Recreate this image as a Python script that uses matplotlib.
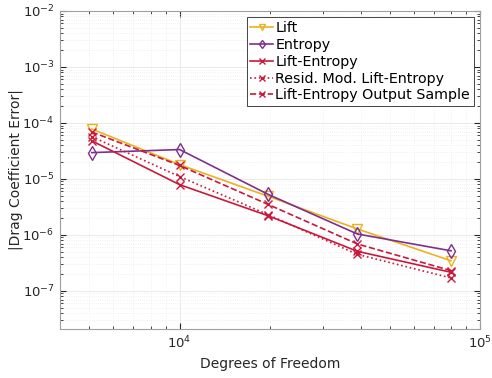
import numpy as np
import matplotlib.pyplot as plt

# Degrees of freedom for each refinement level
dof = [5100, 10000, 19700, 39000, 80000]

# |drag coefficient error| for each adaptation indicator
err_lift = [7.8e-5, 1.8e-5, 4.9e-6, 1.28e-6, 3.45e-7]
err_entropy = [2.95e-5, 3.35e-5, 5.3e-6, 1.04e-6, 5.2e-7]
err_lift_entropy = [4.8e-5, 7.9e-6, 2.2e-6, 5.1e-7, 2.15e-7]
err_resid_mod = [5.7e-5, 1.1e-5, 2.3e-6, 4.5e-7, 1.7e-7]
err_output_sample = [6.9e-5, 1.74e-5, 3.5e-6, 6.9e-7, 2.3e-7]

c_yellow = '#EDB120'
c_purple = '#7E2F8E'
c_red = '#C8193C'

fig, ax = plt.subplots(figsize=(4.92, 3.78), dpi=100)
fig.subplots_adjust(left=0.122, right=0.976, bottom=0.13, top=0.971)

ax.loglog(dof, err_lift, '-v', color=c_yellow, mfc='none', ms=7, lw=1.2, label='Lift')
ax.loglog(dof, err_entropy, '-d', color=c_purple, mfc='none', ms=7, lw=1.2, label='Entropy')
ax.loglog(dof, err_lift_entropy, '-x', color=c_red, ms=6, lw=1.2, label='Lift-Entropy')
ax.loglog(dof, err_resid_mod, ':x', color=c_red, ms=6, lw=1.2, label='Resid. Mod. Lift-Entropy')
ax.loglog(dof, err_output_sample, '--x', color=c_red, ms=6, lw=1.2, label='Lift-Entropy Output Sample')

ax.set_xlim(4000, 1e5)
ax.set_ylim(2.1e-8, 1e-2)
ax.set_yticks([1e-7, 1e-6, 1e-5, 1e-4, 1e-3, 1e-2])

ax.set_xlabel('Degrees of Freedom', fontsize=10, color='#262626')
ax.set_ylabel('|Drag Coefficient Error|', fontsize=10, color='#262626')
ax.yaxis.set_label_coords(-0.088, 0.5)

ax.grid(True, which='major', color='#e6e6e6', lw=0.6)
ax.grid(True, which='minor', color='#ececec', lw=0.6, ls=':')
ax.set_axisbelow(True)
ax.tick_params(which='both', direction='in', top=True, right=True, colors='#262626',
               labelsize=9.5, pad=4)
ax.tick_params(which='major', length=4)
ax.tick_params(which='minor', length=2)
for s in ax.spines.values():
    s.set_color('#a0a0a0')
    s.set_linewidth(0.8)

leg = ax.legend(loc='upper right', fontsize=10.3, fancybox=False, framealpha=1,
                edgecolor='#262626', borderpad=0.25, labelspacing=0.2,
                handlelength=1.6, handletextpad=0.15, borderaxespad=0.45,
                markerscale=0.65)
leg.get_frame().set_linewidth(0.6)

fig.savefig('out.png', dpi=100)
